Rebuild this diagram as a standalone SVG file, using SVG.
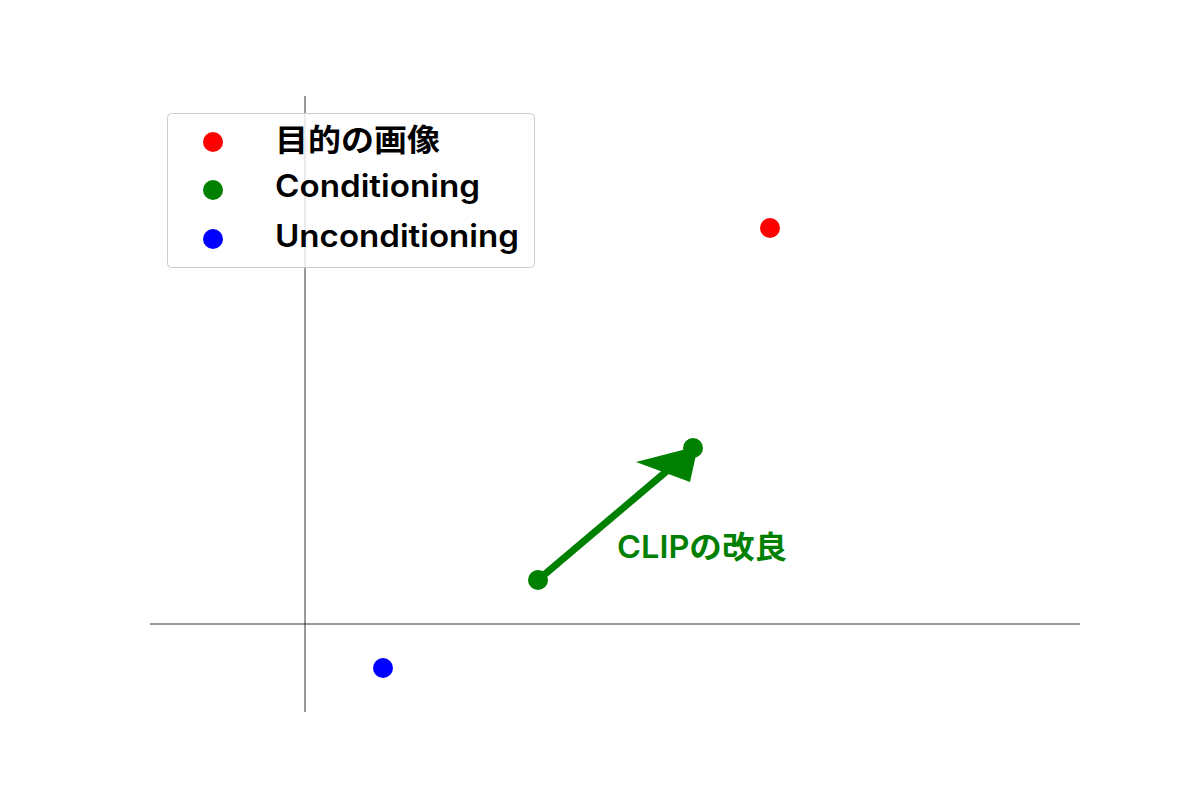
<svg xmlns="http://www.w3.org/2000/svg" width="1200" height="800" viewBox="0 0 1200 800">
<style>
.axis{stroke:#000;stroke-width:0.8}
.leg{font-family:Inter,"Noto Sans CJK JP",sans-serif;font-size:31px;font-weight:600;fill:#000}
.lbl{font-family:Inter,"Noto Sans CJK JP",sans-serif;font-size:31px;font-weight:600;fill:#008000}
</style>
<rect width="1200" height="800" fill="#fff"/>
<g id="axes">
<line class="axis" x1="305" y1="96" x2="305" y2="712"/>
<line class="axis" x1="150" y1="624" x2="1080" y2="624"/>
</g>
<g id="connectors">
<line x1="538" y1="580" x2="668" y2="470" stroke="#008000" stroke-width="7"/>
<polygon points="636,462 690,482 698,446" fill="#008000"/>
</g>
<g id="target"><circle cx="770" cy="228" r="10" fill="#ff0000"/></g>
<g id="conditioning"><circle cx="693" cy="448" r="10" fill="#008000"/></g>
<g id="start"><circle cx="538" cy="580" r="10" fill="#008000"/></g>
<g id="unconditioning"><circle cx="383" cy="668" r="10" fill="#0000ff"/></g>
<g id="clip-label"><text class="lbl" x="617" y="558" textLength="170" lengthAdjust="spacingAndGlyphs">CLIPの改良</text></g>
<g id="legend">
<rect x="167.5" y="113.5" width="367" height="154" rx="4" fill="#fff" fill-opacity="0.8" stroke="#ccc"/>
<circle cx="213" cy="142" r="10" fill="#ff0000"/>
<circle cx="213" cy="190" r="10" fill="#008000"/>
<circle cx="213" cy="239" r="10" fill="#0000ff"/>
<text class="leg" x="275" y="151" textLength="165" lengthAdjust="spacingAndGlyphs">目的の画像</text>
<text class="leg" x="275" y="197" textLength="205" lengthAdjust="spacingAndGlyphs">Conditioning</text>
<text class="leg" x="275" y="247" textLength="244" lengthAdjust="spacingAndGlyphs">Unconditioning</text>
</g>
</svg>
